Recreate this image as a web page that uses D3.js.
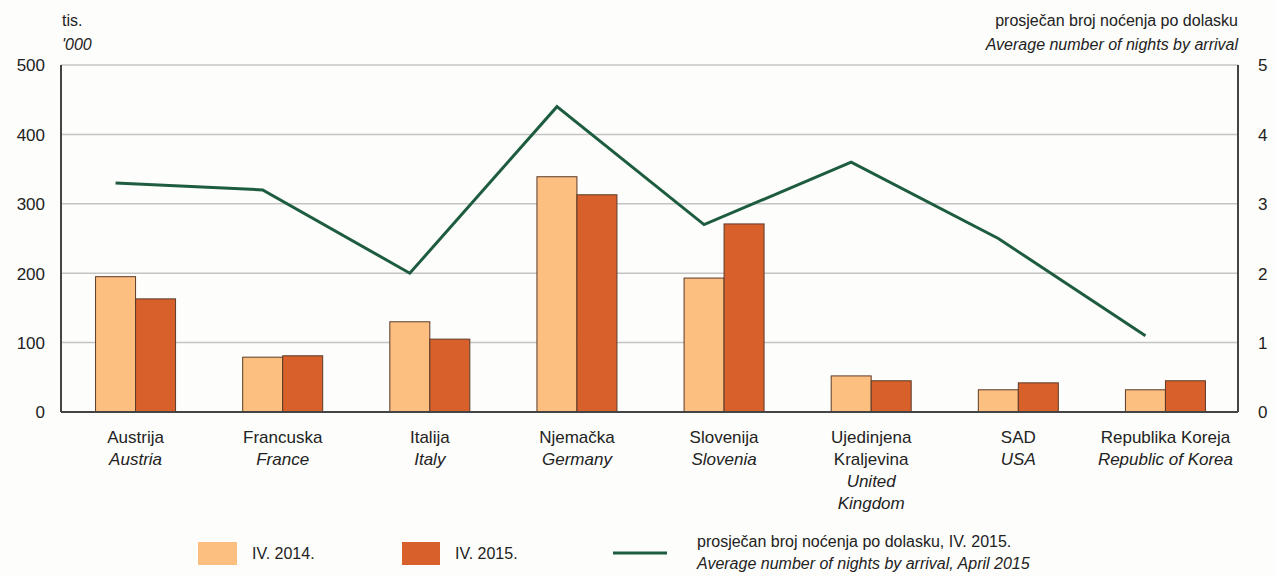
<!DOCTYPE html><head><meta charset="utf-8">
<title>nocenja</title>
<style type="text/css">
body { margin: 0; background: #fdfdfb; }
svg text { font-family: "Liberation Sans Narrow", "Arial Narrow", "Liberation Sans", sans-serif; fill: #222; }
.it { font-style: italic; }
</style>
<script type="text/javascript" src="https://cdn.jsdelivr.net/npm/d3@7"></script>
</head><body>
<svg id="chart" width="1276" height="576"></svg>
<script type="text/javascript">

// categories: [hr, en lines]
var countries = ["Austrija", "Francuska", "Italija", "Njemačka", "Slovenija", "Ujedinjena Kraljevina", "SAD", "Republika Koreja"];
var labelHr = [["Austrija"], ["Francuska"], ["Italija"], ["Njemačka"], ["Slovenija"], ["Ujedinjena", "Kraljevina"], ["SAD"], ["Republika Koreja"]];
var labelEn = [["Austria"], ["France"], ["Italy"], ["Germany"], ["Slovenia"], ["United", "Kingdom"], ["USA"], ["Republic of Korea"]];

var arrivals2014 = [195, 79, 130, 339, 193, 52, 32, 32];   // tis.
var arrivals2015 = [163, 81, 105, 313, 271, 45, 42, 45];
var nightsPerArrival = [3.3, 3.2, 2.0, 4.4, 2.7, 3.6, 2.5, 1.1];

var leftTicks = [0, 100, 200, 300, 400, 500];
var rightTicks = [0, 1, 2, 3, 4, 5];

var svg = d3.select("#chart");
var mLeft = 61, mRight = 1238, mTop = 65, mBottom = 412;
var barW = 40;

var x = d3.scaleBand().domain(countries).range([mLeft, mRight]).padding(0);
var y = d3.scaleLinear().domain([0, 500]).range([mBottom, mTop]);
var y2 = d3.scaleLinear().domain([0, 5]).range([mBottom, mTop]);
function cx(c) { return x(c) + x.bandwidth() / 2 + 1; }

// grid
svg.append("g").selectAll("line").data(leftTicks.slice(1)).join("line")
  .attr("x1", mLeft).attr("x2", mRight)
  .attr("y1", d => y(d)).attr("y2", d => y(d))
  .attr("stroke", "#c4c4c4").attr("stroke-width", 1.5);

// left / right axes labels
var ga = svg.append("g").attr("transform", "translate(" + (mLeft - 16) + ",0)")
  .call(d3.axisLeft(y).tickValues(leftTicks).tickFormat(d3.format("d")).tickSize(0).tickPadding(0));
ga.select(".domain").remove();
ga.selectAll("text").style("font-size", "17px").attr("dy", "0.35em").attr("fill", "#222");

var gb = svg.append("g").attr("transform", "translate(" + (mRight + 20) + ",0)")
  .call(d3.axisRight(y2).tickValues(rightTicks).tickFormat(d3.format("d")).tickSize(0).tickPadding(0));
gb.select(".domain").remove();
gb.selectAll("text").style("font-size", "17px").attr("dy", "0.35em").attr("fill", "#222");

// bars
svg.append("g").selectAll("rect").data(countries).join("rect")
  .attr("x", d => cx(d) - barW).attr("width", barW)
  .attr("y", (d, i) => y(arrivals2014[i])).attr("height", (d, i) => mBottom - y(arrivals2014[i]))
  .attr("fill", "#fdbf80").attr("stroke", "#5b3a28").attr("stroke-width", 1);
svg.append("g").selectAll("rect").data(countries).join("rect")
  .attr("x", d => cx(d)).attr("width", barW)
  .attr("y", (d, i) => y(arrivals2015[i])).attr("height", (d, i) => mBottom - y(arrivals2015[i]))
  .attr("fill", "#d8602a").attr("stroke", "#5b3a28").attr("stroke-width", 1);

// axis lines
svg.append("line").attr("x1", mLeft).attr("x2", mLeft).attr("y1", mTop).attr("y2", mBottom).attr("stroke", "#444").attr("stroke-width", 2);
svg.append("line").attr("x1", mRight).attr("x2", mRight).attr("y1", mTop).attr("y2", mBottom).attr("stroke", "#444").attr("stroke-width", 2);
svg.append("line").attr("x1", mLeft).attr("x2", mRight).attr("y1", mBottom).attr("y2", mBottom).attr("stroke", "#444").attr("stroke-width", 2);

// line
svg.append("path").datum(nightsPerArrival)
  .attr("d", d3.line().x((d, i) => cx(countries[i]) - barW / 2).y(d => y2(d)))
  .attr("fill", "none").attr("stroke", "#1d5c3f").attr("stroke-width", 3).attr("stroke-linejoin", "miter");

// category labels
var cl = svg.append("g").selectAll("g").data(countries).join("g")
  .attr("transform", d => "translate(" + cx(d) + ",0)");
cl.each(function(d, i) {
  var g = d3.select(this);
  var lines = labelHr[i].map(t => ({t: t, it: false})).concat(labelEn[i].map(t => ({t: t, it: true})));
  g.selectAll("text").data(lines).join("text")
    .attr("class", l => l.it ? "it" : null)
    .attr("text-anchor", "middle").attr("y", (l, k) => 443 + k * 22)
    .style("font-size", "17px").text(l => l.t);
});

// header labels
svg.append("text").attr("x", mLeft + 1).attr("y", 26).style("font-size", "16px").text("tis.");
svg.append("text").attr("class", "it").attr("x", mLeft + 1).attr("y", 50).style("font-size", "16px").text("'000");
svg.append("text").attr("x", mRight).attr("y", 26).attr("text-anchor", "end").style("font-size", "16px").text("prosječan broj noćenja po dolasku");
svg.append("text").attr("class", "it").attr("x", mRight).attr("y", 50).attr("text-anchor", "end").style("font-size", "16px").text("Average number of nights by arrival");

// legend
var lg = svg.append("g");
lg.append("rect").attr("x", 198).attr("y", 542).attr("width", 39).attr("height", 23).attr("fill", "#fdbf80");
lg.append("text").attr("x", 252).attr("y", 559).style("font-size", "16px").text("IV. 2014.");
lg.append("rect").attr("x", 402).attr("y", 542).attr("width", 38).attr("height", 23).attr("fill", "#d8602a");
lg.append("text").attr("x", 455).attr("y", 559).style("font-size", "16px").text("IV. 2015.");
lg.append("line").attr("x1", 613).attr("x2", 667).attr("y1", 553).attr("y2", 553).attr("stroke", "#1d5c3f").attr("stroke-width", 3);
lg.append("text").attr("x", 697).attr("y", 547).style("font-size", "16px").text("prosječan broj noćenja po dolasku, IV. 2015.");
lg.append("text").attr("class", "it").attr("x", 697).attr("y", 569).style("font-size", "16px").text("Average number of nights by arrival, April 2015");

</script>
</body></html>
